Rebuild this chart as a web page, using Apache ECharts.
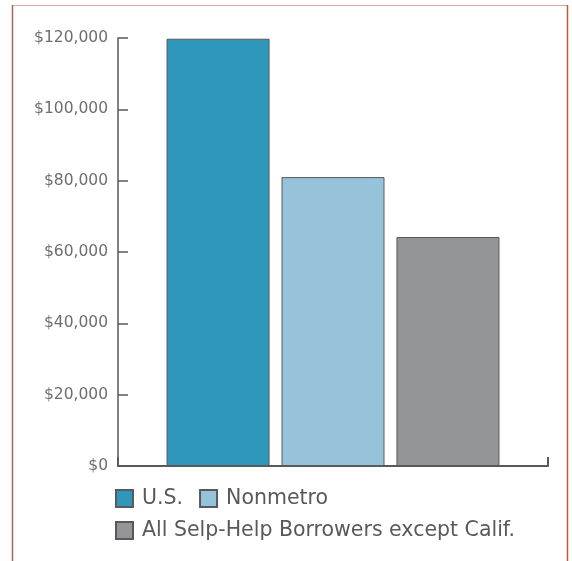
<!DOCTYPE html>
<html><head><meta charset="utf-8">
<script src="https://cdn.jsdelivr.net/npm/echarts@6/dist/echarts.min.js"></script>
<style>html,body{margin:0;padding:0;background:#fff}#c{width:572px;height:561px}</style>
</head><body><div id="c"></div>
<script>
var categories = ['Median value'];
var seriesNames = ['U.S.', 'Nonmetro', 'All Selp-Help Borrowers except Calif.'];
var usValues = [119800];
var nonmetroValues = [81000];
var selpHelpValues = [64200];
var yTicks = [0, 20000, 40000, 60000, 80000, 100000, 120000];
var colors = ['#2f97bb', '#97c3da', '#939598'];

var chart = echarts.init(document.getElementById('c'), null, {renderer: 'canvas'});
var axisColor = '#58595b';
var font = 'DejaVu Sans';
function mk(i, data) {
  return {
    name: seriesNames[i], type: 'bar', data: data,
    barWidth: 103, barGap: '11.6%',
    itemStyle: {color: colors[i], borderColor: '#58595b', borderWidth: 1},
    emphasis: {disabled: true}
  };
}
var legendText = {fontFamily: font, fontSize: 20.5, color: '#58595b', padding: [0, 0, 0, 4]};
chart.setOption({
  animation: false,
  grid: {left: 118, right: 24, top: 38, bottom: 95, containLabel: false},
  xAxis: {
    type: 'category', data: categories, boundaryGap: true,
    axisLine: {lineStyle: {color: axisColor, width: 2}},
    axisTick: {show: true, inside: true, length: 9, lineStyle: {color: axisColor, width: 2}},
    axisLabel: {show: false}
  },
  yAxis: {
    type: 'value', min: yTicks[0], max: yTicks[yTicks.length - 1], interval: 20000,
    axisLine: {show: true, lineStyle: {color: axisColor, width: 1.5}},
    axisTick: {show: true, inside: true, length: 10, lineStyle: {color: axisColor, width: 1.5}},
    splitLine: {show: false},
    axisLabel: {
      color: '#6d6e71', fontFamily: font, fontSize: 15.5, margin: 10,
      formatter: function (v) { return '$' + v.toLocaleString('en-US'); }
    }
  },
  legend: [
    {data: [seriesNames[0], seriesNames[1]], left: 115, top: 488, padding: 0, itemWidth: 17, itemHeight: 17, itemGap: 16,
     icon: 'rect', textStyle: legendText, selectedMode: false},
    {data: [seriesNames[2]], left: 115, top: 520, padding: 0, itemWidth: 17, itemHeight: 17, itemGap: 16,
     icon: 'rect', textStyle: legendText, selectedMode: false}
  ],
  graphic: [
    {type: 'line', shape: {x1: 12.5, y1: 5.5, x2: 567.5, y2: 5.5}, style: {stroke: '#d9aaa0', lineWidth: 1}},
    {type: 'line', shape: {x1: 12.5, y1: 5, x2: 12.5, y2: 561}, style: {stroke: '#a06858', lineWidth: 1.5}},
    {type: 'line', shape: {x1: 567.5, y1: 5, x2: 567.5, y2: 561}, style: {stroke: '#c0583c', lineWidth: 1.5}}
  ],
  series: [mk(0, usValues), mk(1, nonmetroValues), mk(2, selpHelpValues)]
});
</script></body></html>
